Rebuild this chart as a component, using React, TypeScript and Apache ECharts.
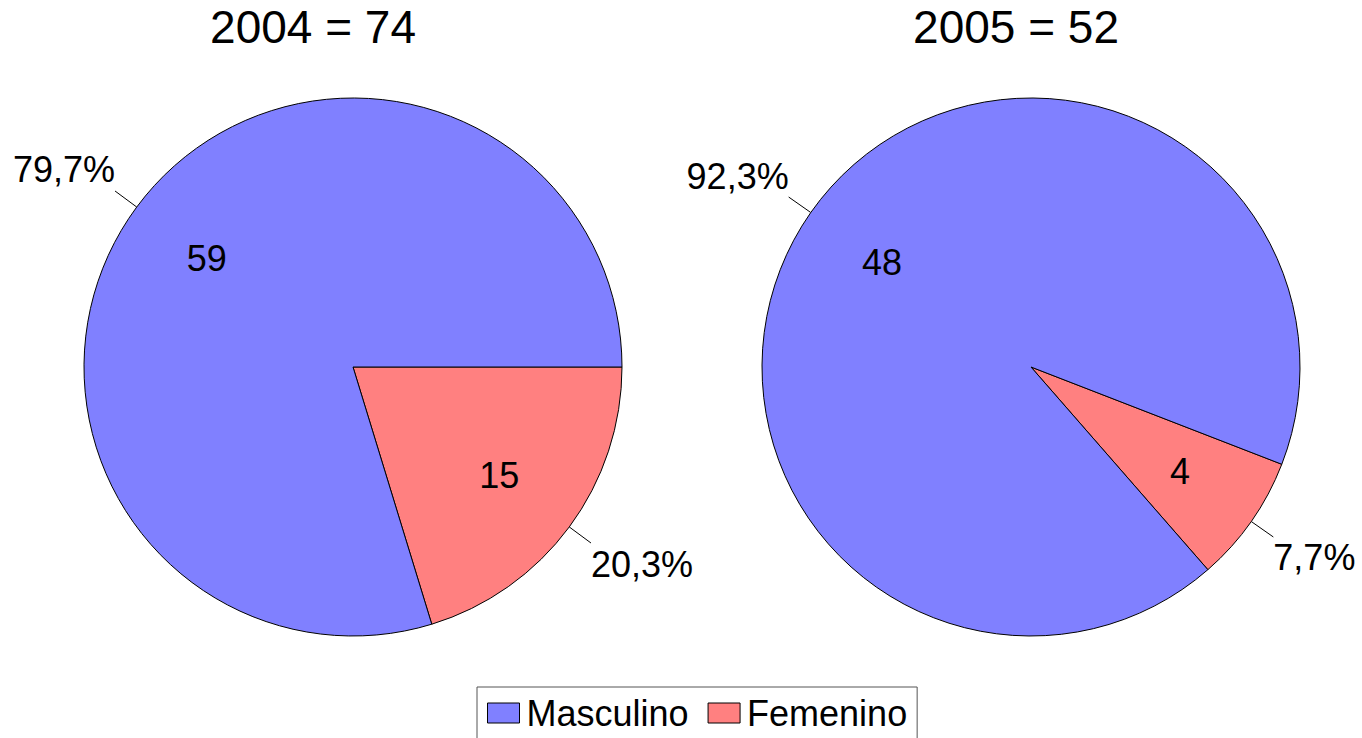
import React, { useEffect, useRef } from "react";
import * as echarts from "echarts";

const categories = ["Femenino", "Masculino"];
const values2004 = [15, 59];
const values2005 = [4, 48];
const titles = ["2004 = 74", "2005 = 52"];
const legendNames = ["Masculino", "Femenino"];
const colors: Record<string, string> = { Masculino: "#8080FF", Femenino: "#FF8080" };

const FONT = "'Liberation Sans', Arial, sans-serif";

function pct(v: number, total: number) {
  return ((v / total) * 100).toFixed(1).replace(".", ",") + "%";
}

function buildSeries(values: number[], center: number[], r: number, startAngle: number) {
  const total = values.reduce((a, b) => a + b, 0);
  const data = categories.map((name, i) => ({
    name,
    value: values[i],
    itemStyle: { color: colors[name], borderColor: "#000", borderWidth: 1 },
  }));
  const main = {
    type: "pie",
    center,
    radius: [0, r],
    startAngle,
    clockwise: true,
    avoidLabelOverlap: false,
    silent: true,
    data,
    label: {
      show: true,
      position: "outside",
      formatter: (p: any) =>
        p.name === "Masculino" ? pct(p.value, total) + "\n " : " \n" + pct(p.value, total),
      fontSize: 36,
      lineHeight: 42,
      fontFamily: FONT,
      color: "#000",
      distanceToLabelLine: 0,
    },
    labelLine: {
      show: true,
      length: 27,
      length2: 0,
      lineStyle: { color: "#000", width: 1 },
    },
  };
  const inner = {
    type: "pie",
    center,
    radius: [Math.round(r * 0.33), r],
    startAngle,
    clockwise: true,
    silent: true,
    avoidLabelOverlap: false,
    data: categories.map((name, i) => ({
      name,
      value: values[i],
      itemStyle: { color: "rgba(0,0,0,0)", borderWidth: 0 },
    })),
    label: {
      show: true,
      position: "inside",
      formatter: "{c}",
      fontSize: 36,
      fontFamily: FONT,
      color: "#000",
    },
    labelLine: { show: false },
  };
  return [main, inner];
}

export default function App() {
  const ref = useRef<HTMLDivElement>(null);
  useEffect(() => {
    if (!ref.current) return;
    const chart = echarts.init(ref.current, undefined, { renderer: "svg" });
    const s1 = buildSeries(values2004, [353, 367], 269, 0);
    const s2 = buildSeries(values2005, [1031, 367], 269, -21.2);
    chart.setOption({
      animation: false,
      backgroundColor: "#fff",
      title: [
        {
          text: titles[0],
          left: 313,
          top: 4,
          textAlign: "center",
          padding: 0,
          textStyle: { fontSize: 46, fontWeight: "normal", fontFamily: FONT, color: "#000" },
        },
        {
          text: titles[1],
          left: 1016,
          top: 4,
          textAlign: "center",
          padding: 0,
          textStyle: { fontSize: 46, fontWeight: "normal", fontFamily: FONT, color: "#000" },
        },
      ],
      legend: {
        left: 477,
        top: 687,
        orient: "horizontal",
        data: legendNames.map((n) => ({
          name: n,
          itemStyle: { color: colors[n], borderColor: "#000", borderWidth: 1 },
        })),
        icon: "rect",
        itemWidth: 32,
        itemHeight: 20,
        itemGap: 19,
        borderColor: "#555",
        borderWidth: 1,
        borderRadius: 0,
        padding: [8, 10, 12, 10],
        selectedMode: false,
        textStyle: { fontSize: 36, fontFamily: FONT, color: "#000", padding: [0, 0, 0, 2] },
      },
      series: [...s1, ...s2],
    });
    return () => chart.dispose();
  }, []);
  return (
    <div
      ref={ref}
      style={{ position: "fixed", left: 0, top: 0, width: 1362, height: 738 }}
    />
  );
}
